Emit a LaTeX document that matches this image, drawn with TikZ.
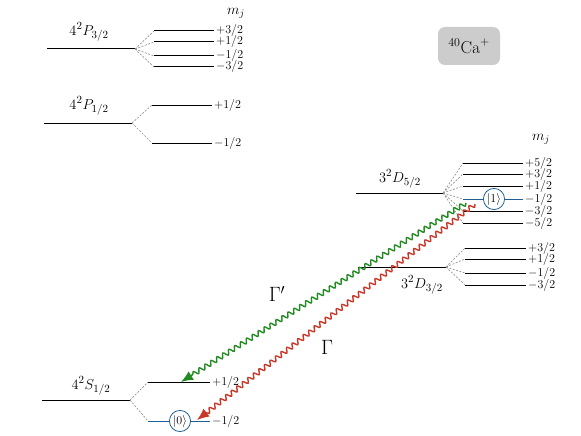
\documentclass[tikz,border=0pt]{standalone}
\usetikzlibrary{decorations.pathmorphing,arrows.meta}
\definecolor{wgreen}{RGB}{34,139,34}
\definecolor{wred}{RGB}{200,55,40}
\definecolor{sblue}{RGB}{31,95,150}
\definecolor{boxgray}{RGB}{204,204,204}
\definecolor{dgray}{RGB}{150,150,150}
\begin{document}
\begin{tikzpicture}[x=1pt,y=-1pt,
  level/.style={line width=1pt},
  split/.style={dgray, dash pattern=on 2pt off 1.5pt, line width=0.7pt},
  mj/.style={anchor=west, font=\fontsize{11.5}{13}\selectfont, inner sep=2pt},
  lvlabel/.style={font=\fontsize{15.5}{18}\selectfont, inner sep=0pt},
  ket/.style={circle, draw=sblue, fill=white, line width=0.8pt, inner sep=1pt, minimum size=21pt, font=\fontsize{11.5}{13}\selectfont},
  wave/.style={line width=1.4pt, decorate, decoration={snake, amplitude=2.3pt, segment length=7pt, post length=11pt}, -{Latex[length=12pt,width=10pt]}},
  gam/.style={font=\huge}]
\useasboundingbox (0,0) rectangle (581,436);

% 4 2P3/2
\coordinate (P3a) at (47,49); \coordinate (P3b) at (135,49);
\draw[level] (P3a) -- (P3b);
\node[lvlabel] (P3lab) at (89,32) {$4^2P_{3/2}$};
\foreach \i/\y/\s/\n in {1/31/+/3, 2/42/+/1, 3/56/-/1, 4/67/-/3}{
  \coordinate (P3s\i a) at (154,\y); \coordinate (P3s\i b) at (214,\y);
  \draw[split] (P3b) -- (P3s\i a);
  \draw[level] (P3s\i a) -- (P3s\i b);
  \node[mj] (P3m\i) at (P3s\i b) {$\s\n/2$};
}
\node[font=\Large] (mj1) at (236,13) {$m_j$};

% 4 2P1/2
\coordinate (P1a) at (44,123); \coordinate (P1b) at (132,123);
\draw[level] (P1a) -- (P1b);
\node[lvlabel] (P1lab) at (89,106) {$4^2P_{1/2}$};
\foreach \i/\y/\s/\n in {1/105/+/1, 2/143/-/1}{
  \coordinate (P1s\i a) at (152,\y); \coordinate (P1s\i b) at (212,\y);
  \draw[split] (P1b) -- (P1s\i a);
  \draw[level] (P1s\i a) -- (P1s\i b);
  \node[mj] (P1m\i) at (P1s\i b) {$\s\n/2$};
}

% 3 2D5/2
\coordinate (D5a) at (356,193); \coordinate (D5b) at (443,193);
\draw[level] (D5a) -- (D5b);
\node[lvlabel] (D5lab) at (400,179) {$3^2D_{5/2}$};
\foreach \i/\y/\s/\n in {1/163/+/5, 2/174/+/3, 3/186/+/1, 5/211/-/3, 6/223/-/5}{
  \coordinate (D5s\i a) at (463,\y); \coordinate (D5s\i b) at (523,\y);
  \draw[split] (D5b) -- (D5s\i a);
  \draw[level] (D5s\i a) -- (D5s\i b);
  \node[mj] (D5m\i) at (D5s\i b) {$\s\n/2$};
}
\coordinate (D5s4a) at (463,199); \coordinate (D5s4b) at (523,199);
\draw[split] (D5b) -- (D5s4a);
\draw[level, sblue] (D5s4a) -- (D5s4b);
\node[mj] (D5m4) at (D5s4b) {$-1/2$};
\node[ket] (k1) at (494,199) {$|1\rangle$};
\node[font=\Large] (mj2) at (541,139) {$m_j$};

% 3 2D3/2
\coordinate (D3a) at (358,267); \coordinate (D3b) at (446,267);
\draw[level] (D3a) -- (D3b);
\node[lvlabel] (D3lab) at (422,285) {$3^2D_{3/2}$};
\foreach \i/\y/\s/\n in {1/248/+/3, 2/259/+/1, 3/273/-/1, 4/285/-/3}{
  \coordinate (D3s\i a) at (465,\y); \coordinate (D3s\i b) at (526,\y);
  \draw[split] (D3b) -- (D3s\i a);
  \draw[level] (D3s\i a) -- (D3s\i b);
  \node[mj] (D3m\i) at (D3s\i b) {$\s\n/2$};
}

% 4 2S1/2
\coordinate (Sa) at (42,400); \coordinate (Sb) at (130,400);
\draw[level] (Sa) -- (Sb);
\node[lvlabel] (Slab) at (91,386) {$4^2S_{1/2}$};
\coordinate (Ss1a) at (148,382); \coordinate (Ss1b) at (210,382);
\draw[split] (Sb) -- (Ss1a);
\draw[level] (Ss1a) -- (Ss1b);
\node[mj] (Sm1) at (Ss1b) {$+1/2$};
\coordinate (Ss2a) at (148,421); \coordinate (Ss2b) at (210,421);
\draw[split] (Sb) -- (Ss2a);
\draw[level, sblue] (Ss2a) -- (Ss2b);
\node[mj] (Sm2) at (Ss2b) {$-1/2$};
\node[ket] (k0) at (180,421) {$|0\rangle$};

% ion box
\node[rounded corners=7pt, fill=boxgray, minimum width=62pt, minimum height=38pt, font=\LARGE] (ion) at (469,46) {$^{40}\mathrm{Ca}^{+}$};

% decays
\coordinate (gs) at (466,203); \coordinate (gt) at (181,382);
\coordinate (rs) at (475,204); \coordinate (rt) at (197,420);
\draw[wave, wgreen] (gs) -- (gt);
\draw[wave, wred] (rs) -- (rt);
\node[gam] (gp) at (277,294) {$\Gamma'$};
\node[gam] (g) at (327,347) {$\Gamma$};
\end{tikzpicture}
\end{document}
